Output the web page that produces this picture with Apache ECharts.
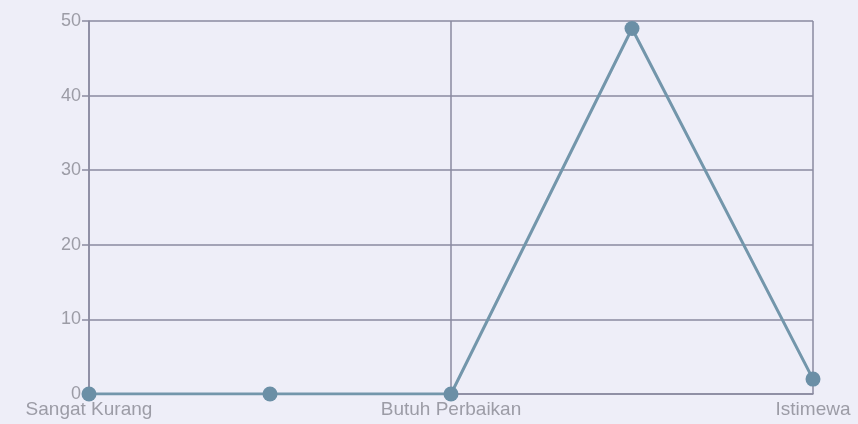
<!DOCTYPE html>
<html>
<head>
<meta charset="utf-8">
<script src="https://cdn.jsdelivr.net/npm/echarts@6/dist/echarts.min.js"></script>
<style>
  html, body { margin: 0; padding: 0; background: #eeeef8; }
  #chart { width: 858px; height: 424px; }
</style>
</head>
<body>
<div id="chart"></div>
<script>
// Rating categories along the x axis
const categories = ['Sangat Kurang', 'Kurang', 'Butuh Perbaikan', 'Baik', 'Istimewa'];
// Count of responses per rating
const counts = [0, 0, 0, 49, 2];
// Value axis range
const yMin = 0, yMax = 50, yStep = 10;

const gridColor = '#8a8aa0';
const labelColor = '#9c9ca6';

const chart = echarts.init(document.getElementById('chart'));
chart.setOption({
  backgroundColor: '#eeeef8',
  animation: false,
  grid: { left: 89, right: 45, top: 21, bottom: 30 },
  xAxis: {
    type: 'category',
    data: categories,
    boundaryGap: false,
    axisLine: { show: true, lineStyle: { color: gridColor, width: 1.5 } },
    axisTick: { show: false },
    axisLabel: {
      interval: 1,
      color: labelColor,
      fontFamily: 'Liberation Sans',
      fontSize: 19,
      margin: 6
    },
    splitLine: { show: true, interval: 1, lineStyle: { color: gridColor, width: 1.5 } }
  },
  yAxis: {
    type: 'value',
    min: yMin, max: yMax, interval: yStep,
    axisLine: { show: true, lineStyle: { color: gridColor, width: 1.5 } },
    axisTick: { show: true, length: 7, lineStyle: { color: gridColor, width: 1.5 } },
    axisLabel: {
      color: labelColor,
      fontFamily: 'Liberation Sans',
      fontSize: 18,
      margin: 8
    },
    splitLine: { show: true, lineStyle: { color: gridColor, width: 1.5 } }
  },
  series: [{
    type: 'line',
    data: counts,
    symbol: 'circle',
    symbolSize: 15,
    lineStyle: { color: '#7396ab', width: 3 },
    itemStyle: { color: '#6b8fa6' }
  }]
});
</script>
</body>
</html>
